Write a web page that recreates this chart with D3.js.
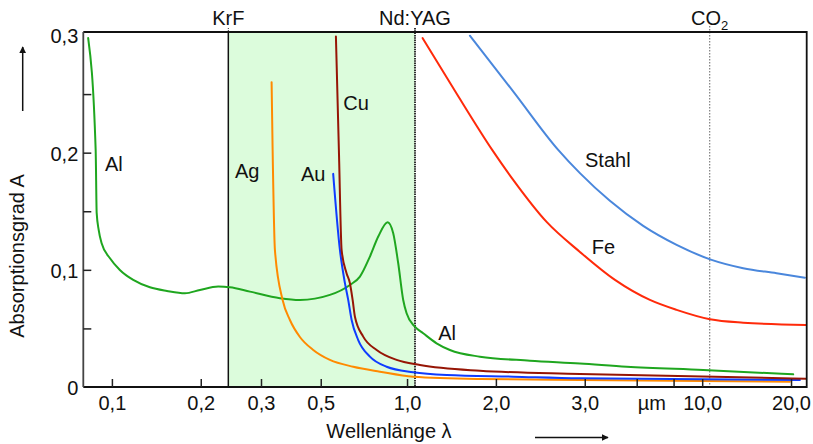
<!DOCTYPE html>
<html>
<head>
<meta charset="utf-8">
<title>Absorptionsgrad</title>
<style>
  body { margin: 0; background: #fff; }
  svg text { font-family: "Liberation Sans", Arial, sans-serif; font-size: 20px; fill: #111; }
  .curve { fill: none; stroke-width: 2; stroke-linejoin: round; stroke-linecap: round; }
  .axis .domain { display: none; }
  .axis line { stroke: #222; stroke-width: 1.5; }
</style>
</head>
<body>
<div id="chart"></div>
<script src="https://d3js.org/d3.v7.min.js"></script>
<script>
// wavelength in µm, absorption A
var al = [[0.0831,0.2978],[0.0881,0.2024],[0.0888,0.1486],[0.0902,0.1341],[0.0923,0.1227],[0.0985,0.1099],
  [0.1064,0.0999],[0.1181,0.0914],[0.1345,0.0851],[0.1536,0.0820],[0.1768,0.0800],[0.1987,0.0828],[0.2292,0.0857],
  [0.2510,0.0851],[0.2935,0.0814],[0.3709,0.0758],[0.4335,0.0743],[0.5478,0.0786],[0.6404,0.0871],[0.6924,0.0942],
  [0.7485,0.1113],[0.7988,0.1284],[0.8594,0.1407],[0.8977,0.1313],[0.9335,0.1056],[0.9705,0.0743],[0.9965,0.0629],
  [1.063,0.0515],[1.134,0.0459],[1.259,0.0373],[1.397,0.0316],[1.766,0.0259],[2.608,0.0225],[3.853,0.0201],
  [5.545,0.0173],[10.08,0.0145],[20.34,0.0108]];
var ag = [[0.3476,0.2602],[0.3504,0.2024],[0.3567,0.1170],[0.3788,0.0743],[0.4010,0.0572],[0.4335,0.0427],
  [0.4810,0.0316],[0.5478,0.0231],[0.6572,0.0173],[0.8092,0.0131],[1.049,0.0088],[1.766,0.0068],[3.853,0.0060],
  [19.82,0.0045]];
var au = [[0.5620,0.1819],[0.5923,0.1170],[0.6160,0.0886],[0.6319,0.0743],[0.6490,0.0572],[0.6832,0.0401],
  [0.7485,0.0259],[0.8527,0.0173],[1.049,0.0126],[1.362,0.0102],[2.289,0.0088],[3.853,0.0074],[21.43,0.0060]];
var cu = [[0.5741,0.2992],[0.5876,0.2024],[0.6002,0.1170],[0.6238,0.0971],[0.6404,0.0886],[0.6541,0.0743],
  [0.6659,0.0600],[0.7104,0.0430],[0.7889,0.0316],[0.9217,0.0231],[1.106,0.0188],[1.766,0.0139],[3.853,0.0111],
  [22.46,0.0071]];
var fe = [[1.129,0.2978],[1.475,0.2501],[1.943,0.2024],[2.289,0.1768],[2.971,0.1409],[3.853,0.1153],
  [5.064,0.0914],[6.651,0.0743],[8.191,0.0658],[10.62,0.0578],[13.77,0.0549],[22.41,0.0530]];
var stahl = [[1.633,0.2998],[2.302,0.2515],[3.252,0.2024],[3.853,0.1825],[4.867,0.1589],[6.311,0.1375],
  [8.191,0.1213],[10.76,0.1085],[13.77,0.1014],[17.87,0.0971],[22.28,0.0933]];

var curveColors = { al: "#1fa61f", ag: "#ff8a00", au: "#0f3cff", cu: "#961505", fe: "#ff2a0a", stahl: "#4a87dc" };

var curveLabels = [
  { text: "Al", at: [0.0947, 0.1845] },
  { text: "Ag", at: [0.2613, 0.1788] },
  { text: "Au", at: [0.4372, 0.1762] },
  { text: "Cu", at: [0.6081, 0.2366] },
  { text: "Stahl", at: [4.009, 0.1881] },
  { text: "Fe", at: [4.224, 0.1136] },
  { text: "Al", at: [1.276, 0.0401] }
];

var lasers = [{ name: "KrF", wl: 0.248 }, { name: "Nd:YAG", wl: 1.064 }, { name: "CO", sub: "2", wl: 10.6 }];

// the original axis is hand-spaced: ticks sit where the source draws them
var xTickValues = [0.1, 0.2, 0.32, 0.51, 1, 2, 4, 6, 8, 10, 20];
var xTickLabels = ["0,1", "0,2", "0,3", "0,5", "1,0", "2,0", "3,0", "", "", "10,0", "20,0"];
var yTickValues = [0, 0.05, 0.1, 0.15, 0.2, 0.25, 0.3];
var yTickLabels = ["0", "", "0,1", "", "0,2", "", "0,3"];

var width = 813, height = 444;
var plot = { l: 83.3, r: 806.7, t: 32, b: 387 };

var svg = d3.select("#chart").append("svg")
    .attr("width", width)
    .attr("height", height);

var x = d3.scaleLog().domain([0.08, 22.6]).range([plot.l, plot.r]);
var y = d3.scaleLinear().domain([0, 0.3]).range([plot.b, 35.5]);

// band between KrF and Nd:YAG
svg.append("rect")
    .attr("x", x(0.248))
    .attr("y", plot.t)
    .attr("width", x(1.064) - x(0.248))
    .attr("height", plot.b - plot.t)
    .attr("fill", "#dcfcdc");

// laser lines
svg.append("line")
    .attr("x1", x(0.248)).attr("x2", x(0.248))
    .attr("y1", 28).attr("y2", plot.t)
    .attr("stroke", "#333").attr("stroke-width", 1).attr("stroke-dasharray", "1,1");
svg.append("line")
    .attr("x1", x(0.248)).attr("x2", x(0.248))
    .attr("y1", plot.t).attr("y2", plot.b)
    .attr("stroke", "#111").attr("stroke-width", 1.5);
svg.append("line")
    .attr("x1", x(1.064)).attr("x2", x(1.064))
    .attr("y1", 28).attr("y2", plot.b)
    .attr("stroke", "#333").attr("stroke-width", 2).attr("stroke-dasharray", "1.5,0.8");
svg.append("line")
    .attr("x1", x(10.6)).attr("x2", x(10.6))
    .attr("y1", 26).attr("y2", plot.b)
    .attr("stroke", "#888").attr("stroke-width", 1.3).attr("stroke-dasharray", "1.5,1.5");

var line = d3.line()
    .x(function(d) { return x(d[0]); })
    .y(function(d) { return y(d[1]); })
    .curve(d3.curveMonotoneX);

var series = { al: al, ag: ag, au: au, cu: cu, fe: fe, stahl: stahl };
Object.keys(series).forEach(function(k) {
  svg.append("path")
      .datum(series[k])
      .attr("class", "curve")
      .attr("stroke", curveColors[k])
      .attr("d", line);
});

// frame
svg.append("path")
    .attr("d", "M" + plot.l + "," + plot.t + "H" + plot.r + "V" + plot.b + "H" + plot.l)
    .attr("fill", "none").attr("stroke", "#111").attr("stroke-width", 1.8);
svg.append("line")
    .attr("x1", plot.l).attr("x2", plot.l).attr("y1", plot.t).attr("y2", plot.b)
    .attr("stroke", "#444").attr("stroke-width", 1.8);

var xAxis = svg.append("g")
    .attr("class", "axis")
    .attr("transform", "translate(0," + plot.b + ")")
    .call(d3.axisBottom(x)
        .tickValues(xTickValues)
        .tickSize(-8)
        .tickPadding(9)
        .tickFormat(function(d, i) { return xTickLabels[i]; }));
xAxis.selectAll("text").attr("font-size", null).attr("font-family", null);

var yAxis = svg.append("g")
    .attr("class", "axis")
    .attr("transform", "translate(" + plot.l + ",0)")
    .call(d3.axisLeft(y)
        .tickValues(yTickValues)
        .tickSize(-8)
        .tickPadding(5)
        .tickFormat(function(d, i) { return yTickLabels[i]; }));
yAxis.selectAll("text").attr("font-size", null).attr("font-family", null).attr("dy", "0.37em");
yAxis.selectAll(".tick").filter(function(d) { return d === 0 || d === 0.3; }).select("line").remove();

svg.append("text")
    .attr("x", x(6.75))
    .attr("y", 410)
    .attr("text-anchor", "middle")
    .text("µm");

// laser names above the frame
lasers.forEach(function(l) {
  var t = svg.append("text")
      .attr("x", x(l.wl))
      .attr("y", 25)
      .attr("text-anchor", "middle")
      .text(l.name);
  if (l.sub) {
    t.append("tspan").attr("dy", 5).style("font-size", "13px").text(l.sub);
  }
});

svg.selectAll(".clabel")
    .data(curveLabels)
    .enter().append("text")
    .attr("class", "clabel")
    .attr("x", function(d) { return x(d.at[0]); })
    .attr("y", function(d) { return y(d.at[1]); })
    .text(function(d) { return d.text; });

// axis titles and arrows
svg.append("text")
    .attr("transform", "translate(24,256) rotate(-90)")
    .attr("text-anchor", "middle")
    .text("Absorptionsgrad A");
svg.append("text")
    .attr("x", 389)
    .attr("y", 438)
    .attr("text-anchor", "middle")
    .text("Wellenlänge λ");

svg.append("defs").append("marker")
    .attr("id", "arrow")
    .attr("viewBox", "0 0 10 10")
    .attr("refX", 9).attr("refY", 5)
    .attr("markerWidth", 7).attr("markerHeight", 7)
    .attr("markerUnits", "userSpaceOnUse")
    .attr("orient", "auto")
  .append("path")
    .attr("d", "M0,0L10,5L0,10Z")
    .attr("fill", "#111");

svg.append("line")
    .attr("x1", 22.7).attr("x2", 22.7).attr("y1", 111).attr("y2", 47)
    .attr("stroke", "#111").attr("stroke-width", 1.5).attr("marker-end", "url(#arrow)");
svg.append("line")
    .attr("x1", 535).attr("x2", 608).attr("y1", 437.5).attr("y2", 437.5)
    .attr("stroke", "#111").attr("stroke-width", 1.5).attr("marker-end", "url(#arrow)");
</script>
</body>
</html>
